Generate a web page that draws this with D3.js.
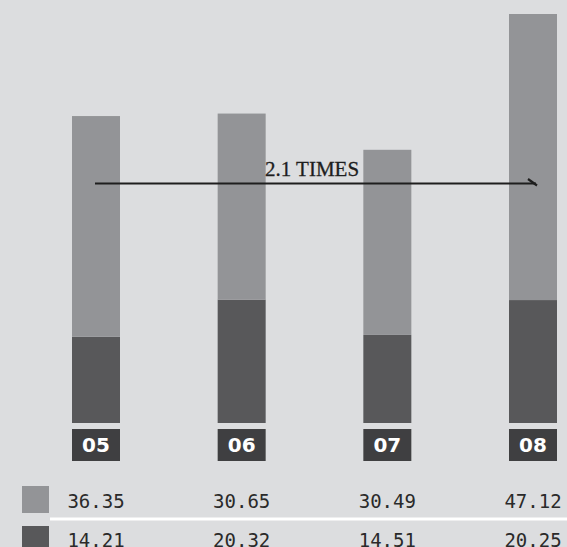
<!DOCTYPE html>
<html>
<head>
<meta charset="utf-8">
<script src="https://cdn.jsdelivr.net/npm/d3@7"></script>
<style>
  html, body { margin: 0; padding: 0; background: #dcdddf; }
  svg { display: block; }
</style>
</head>
<body>
<svg id="chart" width="567" height="547"></svg>
<script>
const categories = ["05", "06", "07", "08"];
const upperValues = [36.35, 30.65, 30.49, 47.12];
const lowerValues = [14.21, 20.32, 14.51, 20.25];
const valueLabels = [
  ["36.35", "30.65", "30.49", "47.12"],
  ["14.21", "20.32", "14.51", "20.25"]
];
const annotationText = "2.1 TIMES";

const W = 567, H = 547;
const svg = d3.select("#chart");
svg.append("rect").attr("width", W).attr("height", H).attr("fill", "#dcdddf");

const totals = categories.map((c, i) => upperValues[i] + lowerValues[i]);
const x = d3.scaleBand().domain(categories).range([72, 557]).paddingInner(0.6705).paddingOuter(0);
const y = d3.scaleLinear().domain([0, d3.max(totals)]).range([423, 14]);

const lightColor = "#939497", darkColor = "#58585a", boxColor = "#3f3f41";

const data = categories.map((c, i) => ({ c, lower: lowerValues[i], upper: upperValues[i] }));

// lower (dark) segment
svg.selectAll("rect.lower").data(data).join("rect")
  .attr("class", "lower")
  .attr("x", d => x(d.c)).attr("width", x.bandwidth())
  .attr("y", d => y(d.lower)).attr("height", d => y(0) - y(d.lower))
  .attr("fill", darkColor);

// upper (light) segment
svg.selectAll("rect.upper").data(data).join("rect")
  .attr("class", "upper")
  .attr("x", d => x(d.c)).attr("width", x.bandwidth())
  .attr("y", d => y(d.lower + d.upper)).attr("height", d => y(d.lower) - y(d.lower + d.upper))
  .attr("fill", lightColor);

// category label boxes
const labelG = svg.selectAll("g.cat").data(categories).join("g").attr("class", "cat");
labelG.append("rect")
  .attr("x", d => x(d)).attr("width", x.bandwidth())
  .attr("y", y(0) + 6).attr("height", 32)
  .attr("fill", boxColor);
labelG.append("text")
  .attr("x", d => x(d) + x.bandwidth() / 2)
  .attr("y", y(0) + 28.5)
  .attr("text-anchor", "middle")
  .attr("font-family", "DejaVu Sans, sans-serif")
  .attr("font-weight", "bold")
  .attr("font-size", 20)
  .attr("fill", "#ffffff")
  .text(d => d);

// annotation arrow
const ay = 183.5;
const x0 = x(categories[0]) + x.bandwidth() / 2 - 1;
const x1 = x(categories[categories.length - 1]) + x.bandwidth() / 2 + 4;
svg.append("line")
  .attr("x1", x0).attr("x2", x1 - 1).attr("y1", ay).attr("y2", ay)
  .attr("stroke", "#1e1e1e").attr("stroke-width", 2.2);
svg.append("line")
  .attr("x1", x1 - 9).attr("y1", ay - 4.5).attr("x2", x1).attr("y2", ay + 2)
  .attr("stroke", "#1e1e1e").attr("stroke-width", 2.2);
svg.append("text")
  .attr("x", 265).attr("y", 176)
  .attr("font-family", "Liberation Serif, serif")
  .attr("font-size", 21)
  .attr("fill", "#1e1e1e")
  .attr("stroke", "#1e1e1e").attr("stroke-width", 0.3)
  .text(annotationText);

// value table
const swatchColors = [lightColor, darkColor];
const rowBaselines = [507.5, 546.5];
const rowTops = [486, 526];
swatchColors.forEach((col, r) => {
  svg.append("rect").attr("x", 22).attr("y", rowTops[r]).attr("width", 27).attr("height", 27).attr("fill", col);
  svg.selectAll(null).data(categories).join("text")
    .attr("x", d => x(d) + x.bandwidth() / 2)
    .attr("y", rowBaselines[r])
    .attr("text-anchor", "middle")
    .attr("font-family", "DejaVu Sans Mono, monospace")
    .attr("font-size", 19)
    .attr("fill", "#2a2a2a")
    .text((d, i) => valueLabels[r][i]);
});
svg.append("line")
  .attr("x1", 50).attr("x2", W).attr("y1", 519).attr("y2", 519)
  .attr("stroke", "#ffffff").attr("stroke-width", 3);
</script>
</body>
</html>
